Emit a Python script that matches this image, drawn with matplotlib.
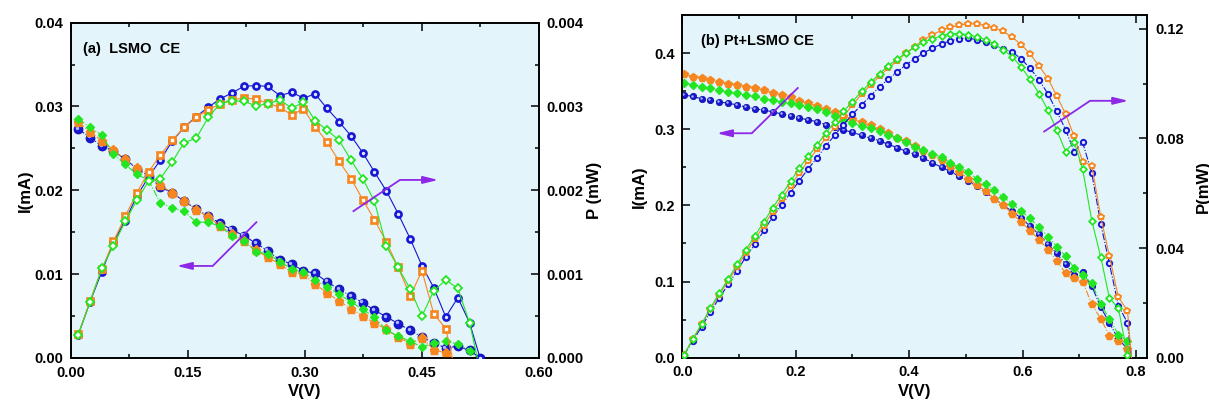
import matplotlib
matplotlib.use('Agg')
import matplotlib.pyplot as plt
from matplotlib.ticker import MultipleLocator, FormatStrFormatter
from matplotlib.transforms import offset_copy

plt.rcParams['font.family'] = ['Liberation Sans', 'DejaVu Sans']
plt.rcParams['font.weight'] = 'bold'
plt.rcParams['axes.labelweight'] = 'bold'

# ---------------- Panel (a) LSMO CE ----------------
V_a = [0.0095, 0.0245, 0.0395, 0.0545, 0.0695, 0.0845, 0.0995, 0.1145, 0.130, 0.145,
       0.1605, 0.176, 0.191, 0.206, 0.2215, 0.237, 0.252, 0.268, 0.283, 0.298,
       0.313, 0.328, 0.3435, 0.359, 0.374, 0.389, 0.4045, 0.4195, 0.435, 0.450,
       0.465, 0.4805, 0.496, 0.511, 0.5245]
V_a_orange_end = 0.489
V_a_green_end = 0.521

I_a_blue = [0.0273, 0.0263, 0.0253, 0.0247, 0.0237, 0.0226, 0.0217, 0.0204, 0.0197, 0.0187,
            0.0178, 0.0169, 0.0161, 0.0153, 0.0146, 0.0137, 0.0128, 0.0117, 0.0112, 0.0104,
            0.0101, 0.0091, 0.0082, 0.0074, 0.0066, 0.0057, 0.0049, 0.0041, 0.0033, 0.0025,
            0.0018, 0.0012, 0.0014, 0.0009, 0.0]
P_a_blue = [0.00028, 0.00067, 0.00103, 0.00138, 0.00164, 0.00193, 0.00216, 0.00236, 0.00259, 0.00275,
            0.00288, 0.00299, 0.00309, 0.00316, 0.00324, 0.00325, 0.00324, 0.00313, 0.00317, 0.00310,
            0.00315, 0.00298, 0.00282, 0.00265, 0.00245, 0.00222, 0.00199, 0.00172, 0.00142, 0.00110,
            0.00084, 0.00049, 0.00072, 0.00042, 0.0]
I_a_orange = [0.0281, 0.0270, 0.0259, 0.0248, 0.0237, 0.0227, 0.0220, 0.0206, 0.0197, 0.0187,
              0.0177, 0.0168, 0.0158, 0.0148, 0.0139, 0.0129, 0.0120, 0.0112, 0.0102, 0.0100,
              0.0088, 0.0078, 0.0068, 0.0059, 0.0050, 0.0042, 0.0034, 0.0025, 0.0017, 0.0024,
              0.0010, 0.0006, 0.0]
P_a_orange = [0.000286, 0.00068, 0.00106, 0.00139, 0.00169, 0.00197, 0.00222, 0.00242, 0.00260, 0.00275,
              0.00287, 0.00296, 0.00303, 0.00308, 0.00310, 0.00309, 0.00304, 0.00299, 0.00290, 0.00297,
              0.00276, 0.00258, 0.00235, 0.00214, 0.00189, 0.00165, 0.00138, 0.00108, 0.00074, 0.00104,
              0.00053, 0.00035, 0.0]
I_a_green = [0.0285, 0.0275, 0.0266, 0.0243, 0.0231, 0.0219, 0.0212, 0.0185, 0.0179, 0.0175,
             0.0162, 0.0162, 0.0157, 0.0146, 0.0140, 0.0127, 0.0124, 0.0115, 0.0106, 0.0102,
             0.0093, 0.0085, 0.0076, 0.0067, 0.0058, 0.0049, 0.0033, 0.0026, 0.0020, 0.0013,
             0.0018, 0.0020, 0.0017, 0.0008, 0.0]
P_a_green = [0.00028, 0.00067, 0.00107, 0.00134, 0.00163, 0.00188, 0.00211, 0.00214, 0.00234, 0.00257,
             0.00262, 0.00287, 0.00303, 0.00307, 0.00306, 0.00301, 0.00303, 0.00308, 0.00298, 0.00305,
             0.00283, 0.00272, 0.00260, 0.00236, 0.00214, 0.00187, 0.00133, 0.00108, 0.00082, 0.00050,
             0.00080, 0.00093, 0.00083, 0.00042, 0.0]

# ---------------- Panel (b) Pt+LSMO CE ----------------
V_b = [0.003, 0.018, 0.034, 0.049, 0.065, 0.081, 0.097, 0.112, 0.128, 0.144,
       0.159, 0.175, 0.191, 0.206, 0.222, 0.238, 0.253, 0.269, 0.284, 0.300,
       0.316, 0.332, 0.348, 0.363, 0.379, 0.394, 0.410, 0.425, 0.441, 0.457,
       0.472, 0.488, 0.504, 0.519, 0.535, 0.550, 0.566, 0.582, 0.598, 0.613,
       0.629, 0.645, 0.660, 0.676, 0.691, 0.706, 0.722, 0.738, 0.753, 0.769,
       0.785]
V_b_end = 0.792

I_b_blue = [0.345, 0.343, 0.340, 0.338, 0.336, 0.334, 0.332, 0.329, 0.327, 0.325,
            0.323, 0.320, 0.318, 0.315, 0.312, 0.310, 0.306, 0.303, 0.299, 0.296,
            0.292, 0.288, 0.285, 0.280, 0.276, 0.271, 0.267, 0.262, 0.256, 0.250,
            0.245, 0.238, 0.232, 0.225, 0.217, 0.209, 0.200, 0.192, 0.183, 0.173,
            0.162, 0.149, 0.137, 0.123, 0.108, 0.112, 0.094, 0.066, 0.046, 0.024,
            0.012, 0.0]
I_b_orange = [0.373, 0.369, 0.367, 0.364, 0.362, 0.360, 0.358, 0.356, 0.354, 0.351,
              0.348, 0.345, 0.342, 0.337, 0.334, 0.330, 0.326, 0.323, 0.318, 0.313,
              0.309, 0.305, 0.300, 0.295, 0.289, 0.284, 0.278, 0.271, 0.266, 0.259,
              0.252, 0.244, 0.235, 0.227, 0.219, 0.209, 0.200, 0.189, 0.178, 0.167,
              0.155, 0.142, 0.127, 0.111, 0.104, 0.100, 0.070, 0.051, 0.029, 0.022,
              0.012, 0.0]
I_b_green = [0.361, 0.358, 0.356, 0.354, 0.351, 0.349, 0.347, 0.345, 0.343, 0.340,
             0.338, 0.336, 0.334, 0.332, 0.329, 0.326, 0.323, 0.318, 0.312, 0.308,
             0.304, 0.301, 0.298, 0.293, 0.288, 0.283, 0.277, 0.273, 0.268, 0.263,
             0.256, 0.250, 0.244, 0.235, 0.228, 0.220, 0.211, 0.202, 0.192, 0.183,
             0.171, 0.159, 0.146, 0.133, 0.118, 0.108, 0.098, 0.070, 0.051, 0.030,
             0.022, 0.0]
P_b_blue = [0.001, 0.006, 0.0113, 0.0166, 0.0217, 0.0268, 0.0318, 0.0368, 0.0414, 0.0464,
            0.0513, 0.0557, 0.0602, 0.0645, 0.0689, 0.0730, 0.0773, 0.0812, 0.0850, 0.0888,
            0.0922, 0.0955, 0.0989, 0.1016, 0.1042, 0.1068, 0.1090, 0.1111, 0.1129, 0.1144,
            0.1156, 0.1163, 0.1166, 0.1160, 0.1151, 0.1139, 0.1126, 0.1115, 0.1089, 0.1056,
            0.1014, 0.0961, 0.0900, 0.0831, 0.0752, 0.0785, 0.0673, 0.0487, 0.0344, 0.0190,
            0.0127, 0.0]
P_b_orange = [0.001, 0.0067, 0.0122, 0.0176, 0.0229, 0.0281, 0.0332, 0.0383, 0.0433, 0.0481,
              0.0533, 0.0578, 0.0627, 0.0673, 0.0718, 0.0761, 0.0801, 0.0841, 0.0880, 0.0922,
              0.0961, 0.0995, 0.1028, 0.1056, 0.1083, 0.1111, 0.1135, 0.1160, 0.1178, 0.1194,
              0.1205, 0.1212, 0.1218, 0.1217, 0.1211, 0.1203, 0.1190, 0.1168, 0.1142, 0.1108,
              0.1065, 0.1017, 0.0956, 0.0888, 0.0807, 0.0715, 0.0701, 0.0512, 0.0372, 0.0220,
              0.0172, 0.0]
P_b_green = [0.001, 0.0067, 0.0122, 0.0180, 0.0235, 0.0287, 0.0342, 0.0393, 0.0445, 0.0496,
             0.0546, 0.0594, 0.0643, 0.0692, 0.0734, 0.0777, 0.0820, 0.0859, 0.0898, 0.0934,
             0.0971, 0.1004, 0.1036, 0.1065, 0.1089, 0.1111, 0.1133, 0.1150, 0.1163, 0.1174,
             0.1182, 0.1182, 0.1178, 0.1170, 0.1160, 0.1144, 0.1123, 0.1097, 0.1059, 0.1016,
             0.0963, 0.0902, 0.0831, 0.0752, 0.0788, 0.0687, 0.0500, 0.0366, 0.0218, 0.0180,
             0.0009]

TEXT_A = '(a)  LSMO  CE'
TEXT_B = '(b) Pt+LSMO CE'

BLUE = '#1616d4'
BLUE_EDGE = '#0a0a9a'
ORANGE = '#f7861f'
GREEN = '#22e622'
PURPLE = '#8c28e6'
FACE = '#e3f4fa'

fig = plt.figure(figsize=(12.09, 4.04), dpi=100)
axA = fig.add_axes([0.0587, 0.1139, 0.3871, 0.8300])
axB = fig.add_axes([0.5644, 0.1146, 0.3846, 0.8483])
axA2 = axA.twinx()
axB2 = axB.twinx()


def style(ax, ax2):
    ax.set_facecolor(FACE)
    for a in (ax, ax2):
        for s in a.spines.values():
            s.set_linewidth(1.2)
    ax.tick_params(which='both', direction='in', top=True, right=False,
                   labelsize=10.5, width=1.1, pad=5.5)
    ax2.tick_params(which='both', direction='in', labelsize=10.5, width=1.1, pad=5.5)
    for a in (ax, ax2):
        a.tick_params(which='major', length=5.5)
        a.tick_params(which='minor', length=3)


def balls(ax, x, y, ms, n_mark):
    ax.plot(x, y, ls='-.', lw=0.8, color=BLUE, marker='o', ms=ms, mfc=BLUE,
            mec=BLUE_EDGE, mew=0.5, markevery=slice(0, n_mark), zorder=3)
    tr = offset_copy(ax.transData, fig=fig, x=-ms * 0.14, y=ms * 0.14, units='points')
    ax.plot(x[:n_mark], y[:n_mark], ls='none', marker='o', ms=ms * 0.38, mfc='#aab8ff',
            mec='none', transform=tr, zorder=3.1)


def arrow(ax, pts):
    ax.plot([pts[0][0], pts[1][0]], [pts[0][1], pts[1][1]], color=PURPLE, lw=1.3,
            solid_capstyle='butt', zorder=6)
    ax.annotate('', xy=pts[2], xytext=pts[1],
                arrowprops=dict(arrowstyle='-|>,head_length=0.9,head_width=0.22',
                                color=PURPLE, lw=1.3, shrinkA=0, shrinkB=0), zorder=6)


# ---------- Panel (a) ----------
style(axA, axA2)
Vo = V_a[:len(P_a_orange) - 1] + [V_a_orange_end]
Vg = V_a[:len(P_a_green) - 1] + [V_a_green_end]

balls(axA, V_a, I_a_blue, 6.5, len(V_a))
axA.plot(Vo, I_a_orange, ls='-.', lw=0.8, color=ORANGE, marker='p', ms=6.8, mfc=ORANGE,
         mec=ORANGE, markevery=slice(0, len(Vo) - 1), zorder=3.2)
axA.plot(Vg, I_a_green, ls='-.', lw=0.8, color=GREEN, marker='D', ms=4.2, mfc=GREEN,
         mec=GREEN, markevery=slice(0, len(Vg) - 1), zorder=3.3)

axA2.plot(V_a, P_a_blue, ls='-', lw=0.8, color=BLUE, marker='o', ms=4.4, mfc='#dfe6ff',
          mec=BLUE, mew=1.9, zorder=3)
axA2.plot(Vo, P_a_orange, ls='-', lw=0.8, color=ORANGE, marker='s', ms=4.0, mfc='white',
          mec=ORANGE, mew=1.9, markevery=slice(0, len(Vo) - 1), zorder=3.2)
axA2.plot(Vg, P_a_green, ls='-', lw=0.8, color=GREEN, marker='D', ms=3.6, mfc='white',
          mec=GREEN, mew=1.3, markevery=slice(0, len(Vg) - 1), zorder=3.3)

axA.set_xlim(0, 0.6)
axA.set_ylim(0, 0.04)
axA2.set_ylim(0, 0.004)
axA.xaxis.set_major_locator(MultipleLocator(0.15))
axA.xaxis.set_minor_locator(MultipleLocator(0.075))
axA.yaxis.set_major_locator(MultipleLocator(0.01))
axA.yaxis.set_minor_locator(MultipleLocator(0.005))
axA2.yaxis.set_major_locator(MultipleLocator(0.001))
axA2.yaxis.set_minor_locator(MultipleLocator(0.0005))
axA.xaxis.set_major_formatter(FormatStrFormatter('%.2f'))
axA.yaxis.set_major_formatter(FormatStrFormatter('%.2f'))
axA2.yaxis.set_major_formatter(FormatStrFormatter('%.3f'))
axA.set_xlabel('V(V)', fontsize=12, fontweight='bold', labelpad=3)
axA.set_ylabel('I(mA)', fontsize=12, fontweight='bold', labelpad=1)
axA2.set_ylabel('P (mW)', fontsize=12, fontweight='bold', labelpad=2)
axA.text(0.026, 0.922, TEXT_A, transform=axA.transAxes, fontsize=10.5,
         fontweight='bold', va='center', ha='left')
arrow(axA, [(0.2385, 0.01627), (0.1817, 0.01098), (0.1355, 0.01098)])
arrow(axA2, [(0.3612, 0.001746), (0.4218, 0.002124), (0.4709, 0.002124)])

# ---------- Panel (b) ----------
style(axB, axB2)
Vb = V_b + [V_b_end]
nb = len(V_b)
balls(axB, Vb, I_b_blue, 4.6, nb)
axB.plot(Vb, I_b_orange, ls='-.', lw=0.8, color=ORANGE, marker='p', ms=5.6, mfc=ORANGE,
         mec=ORANGE, markevery=slice(0, nb), zorder=3.2)
axB.plot(Vb, I_b_green, ls='-.', lw=0.8, color=GREEN, marker='D', ms=3.8, mfc=GREEN,
         mec=GREEN, markevery=slice(0, nb), zorder=3.3)

axB2.plot(Vb, P_b_blue, ls='-.', lw=0.8, color=BLUE, marker='o', ms=3.8, mfc='#dfe6ff',
          mec=BLUE, mew=1.4, markevery=slice(0, nb), zorder=3)
axB2.plot(Vb, P_b_orange, ls='-', lw=0.8, color=ORANGE, marker='p', ms=4.4, mfc='white',
          mec=ORANGE, mew=1.4, markevery=slice(0, nb), zorder=3.2)
axB2.plot(V_b, P_b_green, ls='-', lw=0.8, color=GREEN, marker='D', ms=3.4, mfc='white',
          mec=GREEN, mew=1.3, zorder=3.3)

axB.set_xlim(0, 0.82)
axB.set_ylim(0, 0.45)
axB2.set_ylim(0, 0.125)
axB.xaxis.set_major_locator(MultipleLocator(0.2))
axB.xaxis.set_minor_locator(MultipleLocator(0.1))
axB.yaxis.set_major_locator(MultipleLocator(0.1))
axB.yaxis.set_minor_locator(MultipleLocator(0.05))
axB2.yaxis.set_major_locator(MultipleLocator(0.04))
axB2.yaxis.set_minor_locator(MultipleLocator(0.02))
axB.xaxis.set_major_formatter(FormatStrFormatter('%.1f'))
axB.yaxis.set_major_formatter(FormatStrFormatter('%.1f'))
axB2.yaxis.set_major_formatter(FormatStrFormatter('%.2f'))
axB.set_xlabel('V(V)', fontsize=12, fontweight='bold', labelpad=3)
axB.set_ylabel('I(mA)', fontsize=12, fontweight='bold', labelpad=5)
axB2.set_ylabel('P(mW)', fontsize=12, fontweight='bold', labelpad=9)
axB.text(0.04, 0.925, TEXT_B, transform=axB.transAxes, fontsize=10.5,
         fontweight='bold', va='center', ha='left')
arrow(axB, [(0.2046, 0.3549), (0.1224, 0.2947), (0.0607, 0.2947)])
arrow(axB2, [(0.6367, 0.0823), (0.719, 0.0937), (0.7866, 0.0937)])

fig.savefig('out.png', dpi=100)
